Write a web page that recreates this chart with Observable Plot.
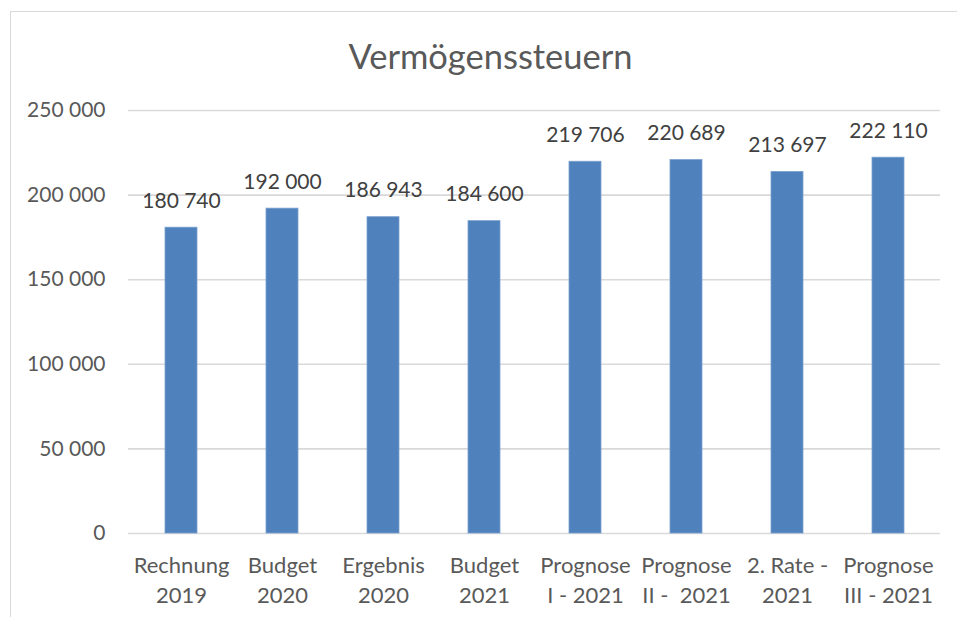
<!DOCTYPE html>
<html>
<head>
<meta charset="utf-8">
<script src="https://cdn.jsdelivr.net/npm/d3@7"></script>
<script src="https://cdn.jsdelivr.net/npm/@observablehq/plot@0.6"></script>
<style>
  html, body { margin: 0; padding: 0; background: #fff; }
  #wrap { position: relative; width: 957px; height: 617px; overflow: hidden; }
  #frame { position: absolute; left: 10px; top: 11px; width: 980px; height: 640px; border: 1.5px solid #d9d9d9; box-sizing: border-box; }
  #chart { position: absolute; left: 0; top: 0; }
</style>
</head>
<body>
<div id="wrap"><div id="frame"></div><div id="chart"></div></div>
<script>
const title = "Vermögenssteuern";
const categories = ["Rechnung\n2019", "Budget\n2020", "Ergebnis\n2020", "Budget\n2021", "Prognose\nI - 2021", "Prognose\nII -  2021", "2. Rate -\n2021", "Prognose\nIII - 2021"];
const values = [180740, 192000, 186943, 184600, 219706, 220689, 213697, 222110];
const yTicks = [0, 50000, 100000, 150000, 200000, 250000];

const fmt = v => d3.format(",")(v).replace(/,/g, " ");
const table = categories.map((c, i) => ({cat: c, value: values[i]}));
const font = "Lato, 'Open Sans', sans-serif";

const plot = Plot.plot({
  width: 957,
  height: 617,
  marginLeft: 128,
  marginRight: 17,
  marginTop: 110,
  marginBottom: 84,
  style: {fontFamily: font, background: "transparent"},
  x: {domain: categories, paddingInner: 0.685, paddingOuter: 0.3425, axis: null},
  y: {domain: [0, 250000], axis: null},
  marks: [
    Plot.gridY(yTicks, {stroke: "#d9d9d9", strokeOpacity: 1, strokeWidth: 1.6}),
    Plot.barY(table, {x: "cat", y: "value", fill: "#4f81bd", stroke: "#7aa0cf", strokeWidth: 0.8}),
    Plot.text(table, {x: "cat", y: "value", text: d => fmt(d.value), lineAnchor: "bottom", dy: -20, fontSize: 21, fill: "#404040"}),
    Plot.text(table, {x: "cat", y: 0, text: "cat", lineAnchor: "top", dy: 18, fontSize: 22, lineHeight: 1.36, fill: "#595959"}),
    Plot.axisY(yTicks, {tickSize: 0, tickPadding: 23, tickFormat: fmt, fontSize: 21, fill: "#595959", fontFamily: font, label: null}),
    Plot.text([title], {frameAnchor: "top", dx: -44, dy: -66, fontSize: 34.5, fill: "#595959"})
  ]
});
document.getElementById("chart").appendChild(plot);
</script>
</body>
</html>
